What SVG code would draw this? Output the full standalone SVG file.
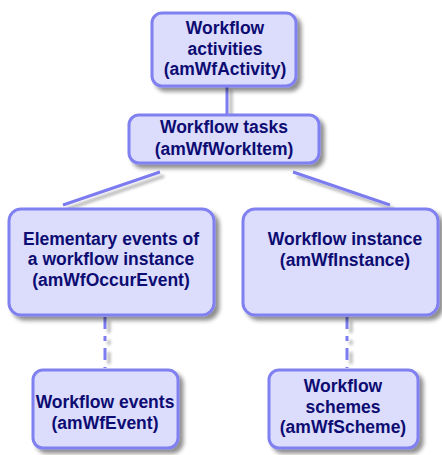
<svg xmlns="http://www.w3.org/2000/svg" width="442" height="455" viewBox="0 0 442 455">
<defs>
<filter id="sh" x="-10%" y="-10%" width="130%" height="130%">
<feGaussianBlur in="SourceAlpha" stdDeviation="2"/>
<feOffset dx="4" dy="4" result="b"/>
<feComponentTransfer><feFuncA type="linear" slope="0.45"/></feComponentTransfer>
<feMerge><feMergeNode/><feMergeNode in="SourceGraphic"/></feMerge>
</filter>
<filter id="lsh" filterUnits="userSpaceOnUse" x="0" y="0" width="442" height="455">
<feGaussianBlur in="SourceAlpha" stdDeviation="1.5"/>
<feOffset dx="4" dy="4" result="b"/>
<feComponentTransfer><feFuncA type="linear" slope="0.3"/></feComponentTransfer>
<feMerge><feMergeNode/><feMergeNode in="SourceGraphic"/></feMerge>
</filter>
</defs>
<style>
.box{fill:#dcdcfc;stroke:#8080f0;stroke-width:3;filter:url(#sh)}
.t{font-family:"Liberation Sans",Arial,sans-serif;font-weight:bold;font-size:17.5px;fill:#0c0c72;text-anchor:middle}
.ln{stroke:#7c7cf0;stroke-width:3;fill:none;filter:url(#lsh)}
.dl{stroke:#7c7cf0;stroke-width:3;fill:none;stroke-dasharray:12,7,5,7;filter:url(#lsh)}
</style>
<rect width="442" height="455" fill="#ffffff"/>
<g id="connectors">
<line class="ln" x1="227" y1="86" x2="227" y2="115"/>
<line class="ln" x1="160" y1="172" x2="63" y2="205"/>
<line class="ln" x1="293" y1="172" x2="390" y2="205"/>
<line class="dl" x1="105" y1="317" x2="105" y2="368"/>
<line class="dl" x1="347" y1="317" x2="347" y2="368"/>
</g>
<g id="activities">
<rect class="box" x="152" y="13" width="144" height="73" rx="10"/>
<text class="t" x="225" y="34">Workflow</text>
<text class="t" x="225" y="55">activities</text>
<text class="t" x="225" y="75">(amWfActivity)</text>
</g>
<g id="tasks">
<rect class="box" x="129" y="115" width="190" height="48" rx="10"/>
<text class="t" x="224" y="133">Workflow tasks</text>
<text class="t" x="224" y="155">(amWfWorkItem)</text>
</g>
<g id="occurevent">
<rect class="box" x="9" y="209" width="205" height="106" rx="12"/>
<text class="t" x="111" y="245">Elementary events of</text>
<text class="t" x="111" y="265">a workflow instance</text>
<text class="t" x="111" y="286">(amWfOccurEvent)</text>
</g>
<g id="instance">
<rect class="box" x="243" y="209" width="195" height="106" rx="12"/>
<text class="t" x="345" y="245">Workflow instance</text>
<text class="t" x="345" y="266">(amWfInstance)</text>
</g>
<g id="events">
<rect class="box" x="33" y="370" width="145" height="78" rx="10"/>
<text class="t" x="105" y="408">Workflow events</text>
<text class="t" x="105" y="429">(amWfEvent)</text>
</g>
<g id="schemes">
<rect class="box" x="269" y="370" width="149" height="78" rx="10"/>
<text class="t" x="343" y="392">Workflow</text>
<text class="t" x="343" y="413">schemes</text>
<text class="t" x="343" y="433">(amWfScheme)</text>
</g>
</svg>
